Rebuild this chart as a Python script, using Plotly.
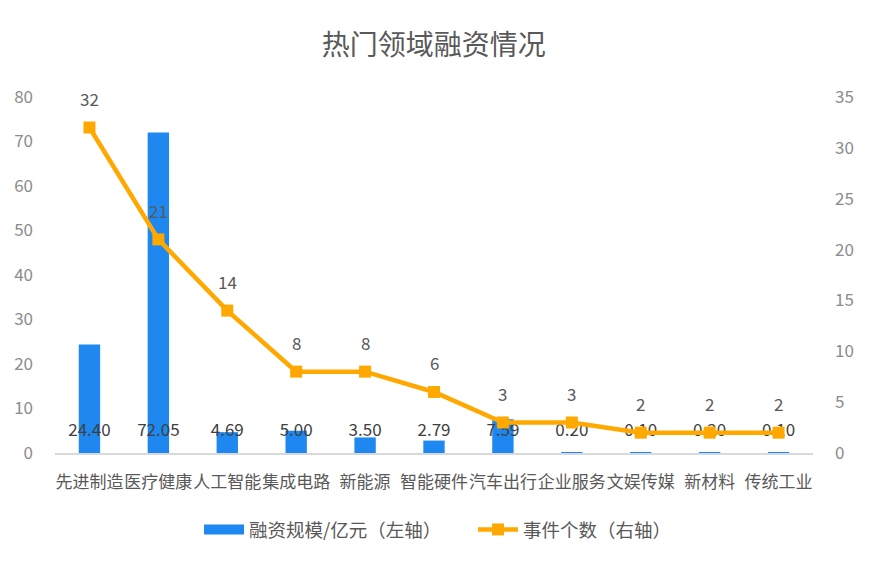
import plotly.graph_objects as go

categories = ["先进制造", "医疗健康", "人工智能", "集成电路", "新能源", "智能硬件",
              "汽车出行", "企业服务", "文娱传媒", "新材料", "传统工业"]
funding = [24.40, 72.05, 4.69, 5.00, 3.50, 2.79, 7.59, 0.20, 0.10, 0.20, 0.10]
events = [32, 21, 14, 8, 8, 6, 3, 3, 2, 2, 2]
left_ticks = [0, 10, 20, 30, 40, 50, 60, 70, 80]
right_ticks = [0, 5, 10, 15, 20, 25, 30, 35]

FONT = "Noto Sans CJK SC"
GRAY = "#595959"
TICK = "#8C8C8C"
BLUE = "#1E88F0"
ORANGE = "#FFA800"

fig = go.Figure()
fig.add_trace(go.Bar(
    x=categories, y=funding, name="融资规模/亿元（左轴）",
    marker=dict(color=BLUE, line=dict(width=0)), width=0.31,
    yaxis="y", hoverinfo="skip", showlegend=False))
# legend entry for the bars (wide rectangle swatch)
fig.add_trace(go.Scatter(
    x=[None], y=[None], mode="lines", name="融资规模/亿元（左轴）",
    line=dict(color=BLUE, width=11), yaxis="y", hoverinfo="skip"))
# bar value labels near the base
fig.add_trace(go.Scatter(
    x=categories, y=[4.8] * len(categories), mode="text",
    text=[f"{v:.2f}" for v in funding], textposition="middle center",
    textfont=dict(family=FONT, size=17, color="#404040"),
    showlegend=False, yaxis="y", hoverinfo="skip"))
fig.add_trace(go.Scatter(
    x=categories, y=events, name="事件个数（右轴）", mode="lines+markers",
    line=dict(color=ORANGE, width=4.5), marker=dict(symbol="square", size=12, color=ORANGE),
    yaxis="y2", hoverinfo="skip"))

for c, v in zip(categories, events):
    fig.add_annotation(x=c, y=v, yref="y2", text=str(v), showarrow=False,
                       yshift=29, font=dict(family=FONT, size=17, color=GRAY))

fig.update_layout(
    width=869, height=564,
    paper_bgcolor="white", plot_bgcolor="white",
    margin=dict(l=47, r=64, t=89, b=119, autoexpand=False),
    title=dict(text="热门领域融资情况", x=0.49, xanchor="center", y=0.934, yanchor="middle",
               font=dict(family=FONT, size=28, color=GRAY)),
    font=dict(family=FONT, color=GRAY),
    xaxis=dict(range=[-0.5, 10.5], showgrid=False, showline=True, linecolor="#D9D9D9",
               linewidth=2, ticks="", ticklabelstandoff=13, tickangle=0, automargin=False,
               tickfont=dict(family=FONT, size=17, color=GRAY)),
    yaxis=dict(range=[0, 80], tickvals=left_ticks, showgrid=False, zeroline=False,
               showline=False, ticks="", ticklabelstandoff=21, automargin=False,
               tickfont=dict(family=FONT, size=17, color=TICK)),
    yaxis2=dict(range=[0, 35], tickvals=right_ticks, overlaying="y", side="right",
                showgrid=False, zeroline=False, showline=False, ticks="",
                ticklabelstandoff=21, automargin=False,
                tickfont=dict(family=FONT, size=17, color=TICK)),
    legend=dict(orientation="h", x=0.19, xanchor="left", y=-0.216, yanchor="middle",
                font=dict(family=FONT, size=18.5, color=GRAY),
                itemwidth=40, entrywidth=219),
    showlegend=True,
)

fig.write_html("out.html")
